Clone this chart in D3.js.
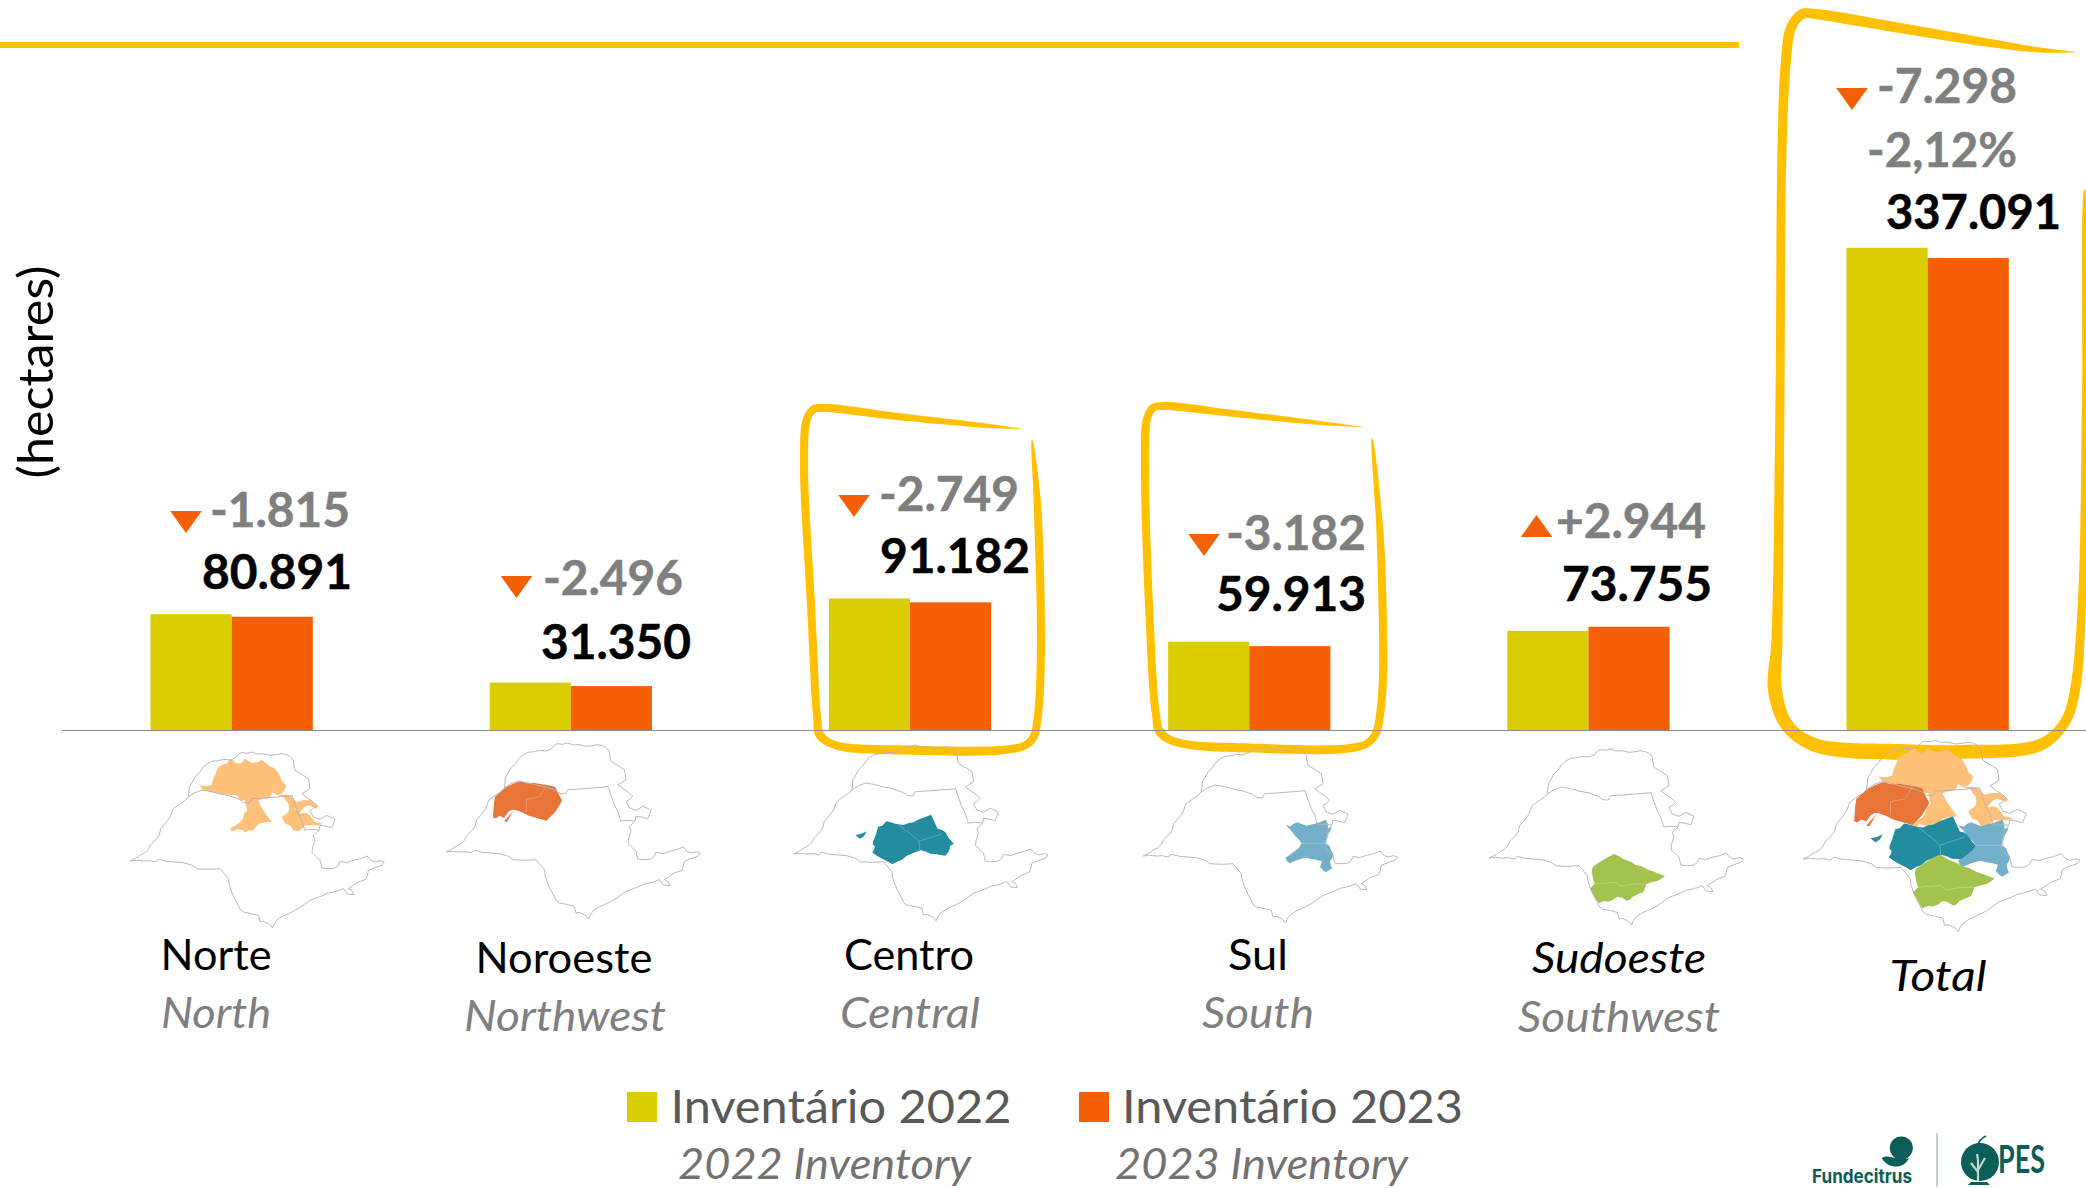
<!DOCTYPE html>
<html><head><meta charset="utf-8">
<script src="https://cdnjs.cloudflare.com/ajax/libs/d3/7.8.5/d3.min.js"></script>
<style>
html,body{margin:0;padding:0;background:#fff;overflow:hidden}
svg{display:block}
text{font-family:Lato,"Open Sans",sans-serif}
</style></head><body>
<svg id="c" width="2086" height="1188"></svg>
<script>
// ---- chart data (hectares) ----
const categories = ["Norte","Noroeste","Centro","Sul","Sudoeste","Total"];
const categoriesEn = ["North","Northwest","Central","South","Southwest",""];
const series = ["Inventário 2022","Inventário 2023"];
const seriesEn = ["2022 Inventory","2023 Inventory"];
const values2022 = [82706,33846,93931,63095,70811,344389];
const values2023 = [80891,31350,91182,59913,73755,337091];
const valueLabels = ["80.891","31.350","91.182","59.913","73.755","337.091"];
const deltaLabels = ["-1.815","-2.496","-2.749","-3.182","+2.944","-7.298"];
const totalPercent = "-2,12%";
const colors = ["#DACE03","#F55F05"];

// ---- layout ----
const svg = d3.select("#c");
const W = 2086;
const baseY = 730;
const x0 = d3.scaleBand().domain(categories).range([61.9,2097.1]);
const x1 = d3.scaleBand().domain([0,1]).range([88.6,250.9]);
const y = d3.scaleLinear().domain([0,337091]).range([baseY,258]);
const gold = "#FFC000", grey="#7F7F7F";

function label(px,py,t,o={}){
  const e = svg.append("text").attr("x",px).attr("y",py).text(t)
    .attr("text-anchor",o.anchor||"middle")
    .attr("font-size",o.size||48)
    .attr("font-weight",o.weight||400)
    .attr("font-style",o.italic?"italic":"normal")
    .attr("fill",o.fill||"#000");
  if(o.len) e.attr("textLength",o.len).attr("lengthAdjust","spacingAndGlyphs");
  if(o.rot) e.attr("transform",`rotate(${o.rot} ${px} ${py})`);
  if(o.heavy) e.attr("stroke",o.fill||"#000").attr("stroke-width",o.heavy);
  return e;
}

// tapered hand-drawn highlight stroke
function ribbon(pts){
  const L=[],R=[];
  pts.forEach((p,i)=>{
    const a=pts[Math.max(i-1,0)], b=pts[Math.min(i+1,pts.length-1)];
    let dx=b[0]-a[0], dy=b[1]-a[1]; const n=Math.hypot(dx,dy)||1; dx/=n; dy/=n;
    L.push([p[0]-dy*p[2]/2,p[1]+dx*p[2]/2]);
    R.push([p[0]+dy*p[2]/2,p[1]-dx*p[2]/2]);
  });
  svg.append("path").attr("fill",gold)
    .attr("d",d3.line().curve(d3.curveCatmullRom.alpha(0.5))(L.concat(R.reverse()))+"Z");
}
const hlTotal=[[2076,52,0.5],[2040,50,5],[1990,43,8],[1900,28,10],[1815,14,10],[1802,14,10],[1791,28,10],[1786,60,10],[1782,150,9],[1780,400,9],[1777,640,11],[1775,690,14],[1787,725,13],[1815,745,14],[1900,752,16],[1960,752,14],[2040,745,12],[2065,722,10],[2075,690,10],[2082,600,8],[2085,400,6],[2085,190,1]];
const hlCentro=[[1021,429,0.5],[990,426,4],[902,417,7],[825,408,8],[814,409,8],[807,419,8],[804,461,8],[811,604,8],[817,715,8],[820,735,9],[835,745,8],[902,750,9],[1021,747,8],[1033,738,8],[1038,715,8],[1041,640,8],[1037,497,7],[1032,440,0.5]];
const hlSul=[[1362,427,0.5],[1320,423,4],[1229,413,7],[1165,406,8],[1153,408,8],[1147,419,8],[1145,461,8],[1149,604,8],[1156,715,8],[1160,732,9],[1176,742,8],[1249,748,9],[1364,745,8],[1376,733,8],[1380,715,8],[1383,676,8],[1380,533,7],[1372,438,0.5]];
svg.append("rect").attr("x",0).attr("y",42).attr("width",1739).attr("height",6).attr("fill",gold);
[hlTotal,hlCentro,hlSul].forEach(ribbon);

// baseline
svg.append("line").attr("x1",62).attr("x2",W).attr("y1",baseY+0.5).attr("y2",baseY+0.5).attr("stroke","#8C8C8C").attr("stroke-width",1.2);

// bars
[values2022,values2023].forEach((vals,s)=>{
  svg.append("g").selectAll("rect").data(vals).join("rect")
    .attr("x",(d,i)=>x0(categories[i])+x1(s))
    .attr("y",d=>y(d)).attr("width",x1.bandwidth())
    .attr("height",d=>baseY-y(d)).attr("fill",colors[s]);
});

// ---- value / delta annotations ----
const deltaAt=[[350,527],[683,595],[1019,511],[1366,550],[1706,538],[2017,103]];
const valueAt=[[352,589],[691,659],[1030,573],[1366,611],[1712,601],[2061,229]];
const triAt=[[186,511],[516.5,576],[854,495],[1204,534],[1536.5,515],[1852,88]];
deltaLabels.forEach((t,i)=>label(deltaAt[i][0],deltaAt[i][1],t,{anchor:"end",weight:700,fill:grey,heavy:.5,len:t[0]==="+"?150:140}));
valueLabels.forEach((t,i)=>label(valueAt[i][0],valueAt[i][1],t,{anchor:"end",weight:700,heavy:.5,len:t.length>6?175:150}));
label(2017,167,totalPercent,{anchor:"end",weight:700,fill:grey,heavy:.5,len:150});
const triW=31.5, triH=22;
deltaLabels.forEach((t,i)=>{
  const [cx,ty]=triAt[i], up=t[0]==="+";
  const p=up?[[cx,ty],[cx-triW/2,ty+triH],[cx+triW/2,ty+triH]]:[[cx-triW/2,ty],[cx+triW/2,ty],[cx,ty+triH]];
  svg.append("path").attr("d",d3.line()(p)+"Z").attr("fill",colors[1]);
});

// ---- maps (traced shape of São Paulo state) ----
const outline=[[30,347],[45,340],[60,330],[75,322],[85,312],[92,298],[100,290],[112,278],[118,268],[122,250],[135,235],[143,225],[150,215],[156,198],[160,190],[180,175],[196,165],[205,155],[207,140],[208,125],[218,108],[225,95],[238,82],[250,65],[262,55],[275,48],[295,46],[310,42],[330,44],[345,38],[356,26],[365,22],[380,24],[395,20],[412,26],[430,25],[450,30],[470,28],[485,25],[500,28],[512,35],[520,45],[522,62],[525,75],[540,84],[550,90],[565,100],[568,115],[570,130],[558,138],[545,145],[555,152],[565,160],[578,168],[590,180],[580,190],[570,195],[575,205],[580,215],[600,222],[620,210],[632,215],[645,222],[640,235],[635,247],[615,242],[600,240],[597,254],[590,262],[580,270],[585,285],[578,305],[576,322],[590,335],[600,345],[603,358],[605,368],[618,370],[630,370],[645,368],[655,360],[660,348],[680,352],[700,345],[722,340],[742,332],[752,345],[765,350],[782,346],[793,350],[786,360],[770,365],[745,375],[742,390],[738,402],[715,410],[700,420],[685,430],[695,435],[702,448],[682,446],[670,430],[655,436],[640,440],[622,444],[605,452],[585,460],[570,465],[552,478],[535,490],[520,498],[505,505],[487,513],[470,525],[463,535],[458,548],[450,538],[445,535],[430,528],[420,530],[415,510],[395,505],[370,500],[360,492],[355,480],[345,462],[335,440],[328,420],[325,400],[310,382],[300,370],[265,372],[230,370],[218,360],[210,358],[190,352],[165,350],[140,348],[115,342],[105,350],[88,346],[70,347],[50,345]];
const innerLine=[[205,155],[225,142],[247,134],[270,138],[300,146],[330,152],[358,162],[372,172],[388,173],[395,160],[430,158],[470,155],[517,151],[522,170],[535,205],[545,225],[554,254],[575,252],[597,254]];
const regionNorte=[[[238,120],[258,122],[275,118],[280,100],[287,85],[293,68],[305,58],[320,55],[328,45],[337,42],[345,52],[358,55],[366,50],[375,40],[385,47],[397,53],[412,50],[425,44],[437,52],[448,62],[462,68],[472,78],[480,92],[486,108],[499,120],[495,132],[488,142],[472,150],[458,141],[452,152],[444,160],[428,161],[414,165],[420,178],[430,195],[442,212],[455,230],[442,230],[428,233],[415,236],[407,246],[398,256],[388,254],[378,261],[365,254],[350,251],[342,258],[331,256],[333,247],[348,240],[358,232],[368,220],[372,205],[382,195],[378,180],[375,165],[358,165],[352,150],[325,148],[300,145],[272,140],[250,135]],
 [[470,148],[490,148],[510,150],[520,160],[530,170],[550,165],[570,165],[582,172],[595,182],[590,190],[565,180],[552,186],[545,195],[538,205],[552,202],[565,205],[575,218],[585,230],[610,235],[595,240],[580,240],[555,240],[545,250],[535,258],[520,255],[510,240],[495,235],[485,215],[497,207],[505,200],[508,188],[505,175],[490,155]]];
const regionNoroeste=[[[177,181],[192,168],[211,152],[230,143],[251,135],[272,141],[295,140],[331,146],[345,148],[358,152],[366,170],[378,192],[370,208],[358,226],[345,240],[331,253],[305,246],[278,238],[258,228],[238,221],[228,220],[217,226],[210,236],[204,244],[191,238],[180,246],[171,244],[172,225],[174,200]],[[204,255],[231,226],[213,257]]];
const regionCentro=[[[269,309],[275,295],[284,265],[296,262],[309,249],[322,252],[335,256],[345,258],[360,260],[376,254],[390,252],[407,243],[425,236],[443,229],[450,245],[462,271],[474,274],[486,282],[495,298],[511,316],[500,322],[497,338],[486,352],[472,350],[456,347],[440,346],[428,340],[413,336],[398,340],[384,346],[370,352],[355,364],[340,370],[327,378],[314,370],[302,364],[290,358],[280,352],[266,342],[272,333],[274,325],[268,318]],[[216,290],[232,287],[250,279],[241,294],[229,301]]];
const regionSul=[[[460,254],[472,258],[482,250],[494,246],[508,252],[520,256],[530,254],[545,250],[560,246],[579,238],[584,250],[585,265],[597,260],[590,275],[583,285],[579,298],[579,309],[590,318],[594,330],[601,342],[598,352],[591,363],[593,374],[597,385],[588,390],[579,396],[570,390],[561,380],[564,372],[567,363],[550,358],[534,356],[518,352],[503,356],[490,360],[469,369],[462,362],[457,352],[470,344],[487,331],[498,322],[506,309],[498,298],[487,287],[478,276],[470,266],[463,260]]];
const regionSudoeste=[[[342,373],[358,362],[379,349],[392,342],[406,335],[420,342],[432,350],[443,354],[458,360],[470,368],[488,372],[507,382],[525,388],[540,394],[558,401],[546,410],[535,416],[518,420],[502,425],[498,438],[493,449],[478,455],[461,463],[452,472],[443,475],[430,466],[415,463],[402,472],[388,478],[375,476],[360,483],[352,474],[347,464],[340,452],[333,439],[340,432],[347,425],[342,410],[340,397],[338,385]]];
const mapFill={Norte:"#FFC07A",Noroeste:"#E9743A",Centro:"#238C9E",Sul:"#73AFC8",Sudoeste:"#A2C34D"};
const regions={Norte:regionNorte,Noroeste:regionNoroeste,Centro:regionCentro,Sul:regionSul,Sudoeste:regionSudoeste};
const innerStrokes={Noroeste:[[[331,149],[311,181],[271,189],[271,226]]],Centro:[[[345,258],[382,287],[407,309],[409,336]],[[407,309],[474,287]]],Sul:[[[506,309],[579,309]]],Sudoeste:[[[347,425],[410,420],[425,432],[470,425],[502,425]]]};
const mapAt=[[130,861,1/3],[446,852,1/3],[793.5,854,1/3],[1143,856,1/3],[1489,858,1/3],[1803,859,0.363]];
const line=d3.line();
categories.forEach((c,i)=>{
  const [tx,ty,s]=mapAt[i];
  const g=svg.append("g").attr("transform",`translate(${tx},${ty}) scale(${s}) translate(-30,-347)`);
  const names=c==="Total"?Object.keys(regions):[c];
  names.forEach(n=>{
    regions[n].forEach(r=>g.append("path").attr("d",line(r)+"Z").attr("fill",mapFill[n]));
    (innerStrokes[n]||[]).forEach(r=>g.append("path").attr("d",line(r)).attr("fill","none").attr("stroke","#fff").attr("stroke-opacity",.3).attr("stroke-width",2.5));
  });
  g.append("path").attr("d",line(outline)+"Z").attr("fill","none").attr("stroke","#B5B5B5").attr("stroke-width",.95/s);
  g.append("path").attr("d",line(innerLine)).attr("fill","none").attr("stroke","#B5B5B5").attr("stroke-width",.95/s);
});

// ---- category labels ----
const catAt=[[216,970],[564,973],[909,970],[1258,970],[1619,973],[1938,991]];
const enAt=[[216,1028],[565,1031],[910,1028],[1258,1028],[1619,1032]];
const catLen=[111,177,130,60,174,97], enLen=[110,202,140,112,202];
categories.forEach((c,i)=>label(catAt[i][0],catAt[i][1],c,{size:43,italic:i>=4,len:catLen[i]}));
categoriesEn.slice(0,5).forEach((c,i)=>label(enAt[i][0],enAt[i][1],c,{size:43,italic:true,fill:grey,len:enLen[i]}));

// y unit
label(53,372,"(hectares)",{size:49,rot:-90,len:213});

// ---- legend ----
const legX=[627,1079], legTx=[670.5,1122], legEn=[678,1115];
series.forEach((t,i)=>{
  svg.append("rect").attr("x",legX[i]).attr("y",1092).attr("width",30).attr("height",30).attr("fill",colors[i]);
  label(legTx[i],1123,t,{anchor:"start",size:47,fill:"#595959",len:341});
  label(legEn[i],1179,seriesEn[i],{anchor:"start",size:42,italic:true,fill:"#767171",len:293});
});

// ---- logos ----
const logo="#0B5D57";
svg.append("circle").attr("cx",1901.3).attr("cy",1148).attr("r",11.5).attr("fill",logo);
svg.append("path").attr("fill",logo).attr("d","M1882 1158 C1888 1154 1896 1160 1904 1159 C1908 1158.5 1909 1158 1909 1158 C1906 1165 1898 1168 1892 1166 C1887 1165 1883 1161 1882 1158Z");
label(1862,1183,"Fundecitrus",{size:19,weight:700,fill:logo,len:100}).style("font-family","Inter,Lato");
svg.append("line").attr("x1",1937).attr("x2",1937).attr("y1",1133).attr("y2",1187).attr("stroke","#A9C4C2").attr("stroke-width",1.5);
svg.append("circle").attr("cx",1980).attr("cy",1162).attr("r",19).attr("fill",logo);
svg.append("path").attr("fill","none").attr("stroke",logo).attr("stroke-width",1.5).attr("d","M1978 1144 C1980 1139 1984 1137 1986 1136");
svg.append("path").attr("fill","none").attr("stroke","#BFD6D3").attr("stroke-width",2.2).attr("d","M1978 1181 L1978 1160 M1978 1172 L1971 1163 M1978 1170 L1985 1158 M1978 1160 L1977 1154");
svg.append("path").attr("fill",logo).attr("d","M1968 1185 H1990 L1987 1182 H1971Z");
label(2021.5,1173,"PES",{size:38,weight:700,fill:logo,len:47});
</script>
</body></html>
